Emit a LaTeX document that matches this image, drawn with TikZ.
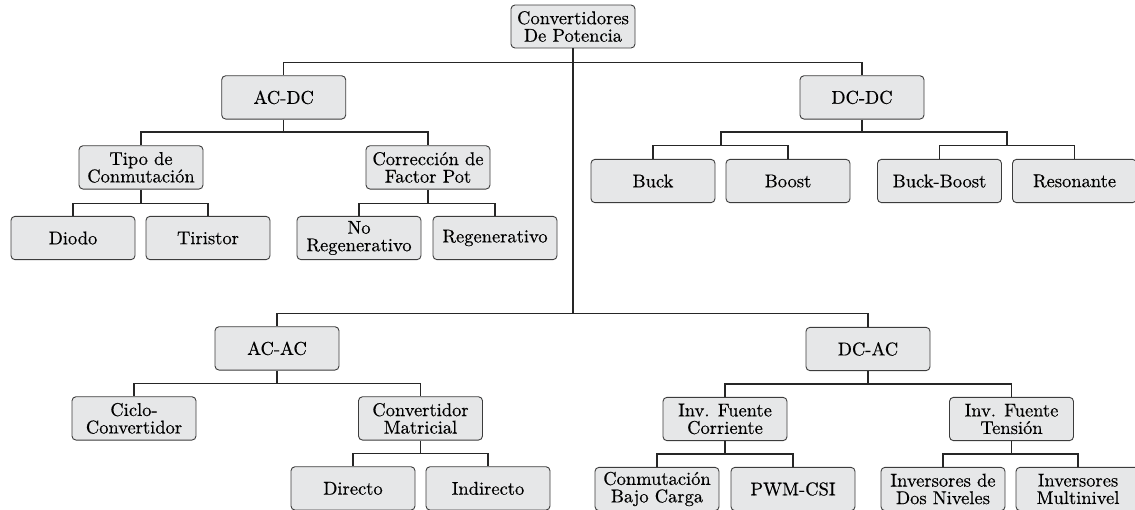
\documentclass[tikz,border=0pt]{standalone}
\usepackage{fontspec}
\usepackage{tikz}

\newfontfamily\boxfont{lmroman10-regular}[Extension=.otf, FakeBold=0.4]
\definecolor{boxfill}{HTML}{E6E7E8}
\definecolor{boxline}{HTML}{3C3C3C}
\definecolor{linecol}{HTML}{262626}

\tikzset{
	conv/.style={draw=boxline, line width=0.9pt, fill=boxfill, rounded corners=4pt,
		minimum width=124pt, minimum height=43.3pt, inner sep=0pt, align=center,
		font=\boxfont\fontsize{18.5}{17.5}\selectfont},
	wire/.style={draw=linecol, line width=1.4pt}
}

\begin{document}
\begin{tikzpicture}[x=1pt, y=-1pt]
		\useasboundingbox (0,0) rectangle (1135,509);

		% top
		\node[conv, minimum height=43pt] (root) at (573,26.5) {Convertidores\\De Potencia};
		\node[conv] (acdc) at (283.7,97.4) {AC-DC};
		\node[conv] (dcdc) at (862,97.4) {DC-DC};

		% AC-DC
		\node[conv] (tipo) at (141,167.4) {Tipo de\\Conmutación};
		\node[conv] (corr) at (428,167.4) {Corrección de\\Factor Pot};
		\node[conv] (diodo) at (73,238) {Diodo};
		\node[conv] (tiristor) at (208,238) {Tiristor};
		\node[conv] (noreg) at (359,238) {No\\Regenerativo};
		\node[conv] (reg) at (495,238) {Regenerativo};

		% DC-DC
		\node[conv] (buck) at (653,181) {Buck};
		\node[conv] (boost) at (788,181) {Boost};
		\node[conv] (buckboost) at (939.5,181) {Buck-Boost};
		\node[conv] (reson) at (1074.5,181) {Resonante};

		% AC-AC
		\node[conv] (acac) at (277,348.4) {AC-AC};
		\node[conv] (ciclo) at (134,418.4) {Ciclo-\\Convertidor};
		\node[conv] (matr) at (420.5,418.4) {Convertidor\\Matricial};
		\node[conv] (directo) at (353,488.4) {Directo};
		\node[conv] (indirecto) at (488,488.4) {Indirecto};

		% DC-AC
		\node[conv] (dcac) at (868,349) {DC-AC};
		\node[conv] (invc) at (725,419) {Inv. Fuente\\Corriente};
		\node[conv] (invt) at (1011.5,419) {Inv. Fuente\\Tensión};
		\node[conv] (conm) at (657,489) {Conmutación\\Bajo Carga};
		\node[conv] (pwm) at (793,489) {PWM-CSI};
		\node[conv] (dosniv) at (943,489) {Inversores de\\Dos Niveles};
		\node[conv] (multi) at (1078,489) {Inversores\\Multinivel};

		% bus points
		\coordinate (bRoot) at (573,62.3);
		\coordinate (bLow) at (573,313.7);
		\coordinate (bAcdc) at (283.7,132);
		\coordinate (bTipo) at (141,203.3);
		\coordinate (bCorr) at (428,203.3);
		\coordinate (bDcdc) at (862,132);
		\coordinate (jL) at (721,145.5);
		\coordinate (jR) at (1007,145.5);
		\coordinate (bAcac) at (277,383.6);
		\coordinate (bMatr) at (420.5,453.5);
		\coordinate (bDcac) at (868,384);
		\coordinate (bInvc) at (725,454);
		\coordinate (bInvt) at (1011.5,454);

		\draw[wire] (root) -- (bLow);
		\foreach \c in {acdc, dcdc}
			\draw[wire] (bRoot) -| (\c);
		\foreach \c in {acac, dcac}
			\draw[wire] (bLow) -| (\c);

		\draw[wire] (acdc) -- (bAcdc);
		\foreach \c in {tipo, corr}
			\draw[wire] (bAcdc) -| (\c);
		\draw[wire] (tipo) -- (bTipo);
		\foreach \c in {diodo, tiristor}
			\draw[wire] (bTipo) -| (\c);
		\draw[wire] (corr) -- (bCorr);
		\foreach \c in {noreg, reg}
			\draw[wire] (bCorr) -| (\c);

		\draw[wire] (dcdc) -- (bDcdc);
		\draw[wire] (bDcdc) -| (jL);
		\draw[wire] (bDcdc) -| (jR);
		\foreach \c in {buck, boost}
			\draw[wire] (jL) -| (\c);
		\foreach \c in {buckboost, reson}
			\draw[wire] (jR) -| (\c);

		\draw[wire] (acac) -- (bAcac);
		\foreach \c in {ciclo, matr}
			\draw[wire] (bAcac) -| (\c);
		\draw[wire] (matr) -- (bMatr);
		\foreach \c in {directo, indirecto}
			\draw[wire] (bMatr) -| (\c);

		\draw[wire] (dcac) -- (bDcac);
		\foreach \c in {invc, invt}
			\draw[wire] (bDcac) -| (\c);
		\draw[wire] (invc) -- (bInvc);
		\foreach \c in {conm, pwm}
			\draw[wire] (bInvc) -| (\c);
		\draw[wire] (invt) -- (bInvt);
		\foreach \c in {dosniv, multi}
			\draw[wire] (bInvt) -| (\c);
	\end{tikzpicture}
\end{document}
